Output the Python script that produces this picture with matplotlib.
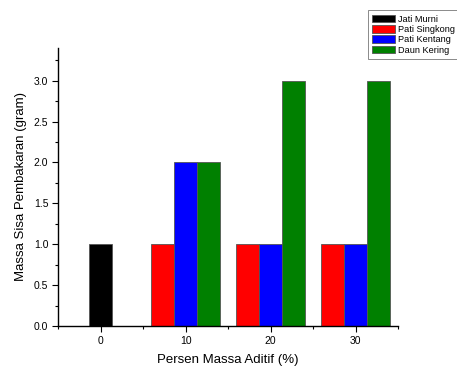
import numpy as np
import matplotlib
matplotlib.use("Agg")
import matplotlib.pyplot as plt
from matplotlib.ticker import MultipleLocator, FixedLocator

plt.rcParams['font.family'] = ['Liberation Sans', 'DejaVu Sans']

categories = ["0", "10", "20", "30"]
series_names = ["Jati Murni", "Pati Singkong", "Pati Kentang", "Daun Kering"]
jati_murni = [1.0, np.nan, np.nan, np.nan]
pati_singkong = [np.nan, 1.0, 1.0, 1.0]
pati_kentang = [np.nan, 2.0, 1.0, 1.0]
daun_kering = [np.nan, 2.0, 3.0, 3.0]
colors = ["#000000", "#ff0000", "#0000ff", "#008000"]

series = [jati_murni, pati_singkong, pati_kentang, daun_kering]

fig = plt.figure(figsize=(4.57, 3.69), dpi=100)
ax = fig.add_axes([0.127, 0.1165, 0.744, 0.7535])

bw = 0.268
x = np.arange(len(categories))
for ci in range(len(categories)):
    present = [si for si in range(len(series)) if not np.isnan(series[si][ci])]
    n = len(present)
    for k, si in enumerate(present):
        off = (k - (n - 1) / 2) * bw
        ax.bar(x[ci] + off, series[si][ci], width=bw, color=colors[si],
               edgecolor="#555555", linewidth=0.6, zorder=2)

handles = [plt.Rectangle((0, 0), 1, 1, facecolor=c, edgecolor="#555555", linewidth=0.6) for c in colors]

ax.set_xlim(-0.5, 3.5)
ax.set_ylim(0, 3.4)
ax.set_xticks(x)
ax.set_xticklabels(categories)
ax.xaxis.set_minor_locator(FixedLocator([-0.5, 0.5, 1.5, 2.5, 3.5]))
ax.yaxis.set_major_locator(MultipleLocator(0.5))
ax.yaxis.set_minor_locator(MultipleLocator(0.25))
ax.yaxis.set_major_formatter(matplotlib.ticker.FormatStrFormatter('%.1f'))
for s in ["top", "right"]:
    ax.spines[s].set_visible(False)
for s in ["left", "bottom"]:
    ax.spines[s].set_linewidth(1.0)
ax.tick_params(which='major', direction='out', length=4, width=0.8, labelsize=7.5, pad=3)
ax.tick_params(which='minor', direction='out', length=2, width=0.8)

ax.set_xlabel("Persen Massa Aditif (%)", fontsize=9.5, labelpad=6)
ax.set_ylabel("Massa Sisa Pembakaran (gram)", fontsize=9.5, labelpad=5)

leg = fig.legend(handles, series_names, loc="upper left", bbox_to_anchor=(0.805, 0.973),
                 bbox_transform=fig.transFigure, fontsize=6.6, frameon=True, fancybox=False,
                 edgecolor="#555555", handlelength=2.45, handleheight=0.9, handletextpad=0.35,
                 labelspacing=0.15, borderpad=0.5, borderaxespad=0)
leg.get_frame().set_linewidth(0.6)

fig.savefig("out.png", dpi=100)
